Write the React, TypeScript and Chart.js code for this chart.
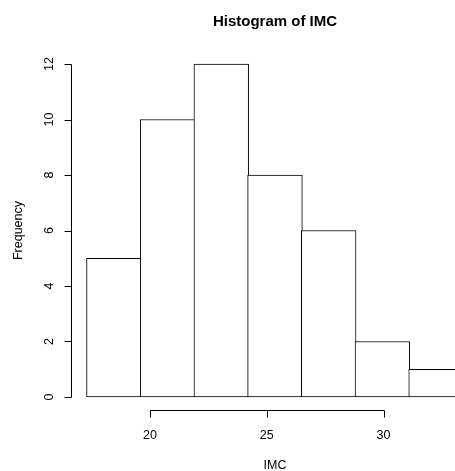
import React, { useEffect, useRef } from "react";
import { Chart, registerables } from "chart.js";

Chart.register(...registerables);

// Histogram bins (class breaks) and counts for IMC
const binEdges = [17.3, 19.6, 21.9, 24.2, 26.5, 28.8, 31.1, 33.4];
const counts = [5, 10, 12, 8, 6, 2, 1];
const xTickValues = [20, 25, 30];
const yTickValues = [0, 2, 4, 6, 8, 10, 12];
const titleText = "Histogram of IMC";
const xLabel = "IMC";
const yLabel = "Frequency";

const FONT = "'Liberation Sans', Arial, Helvetica, sans-serif";

const W = 455;
const H = 471;
const PAD_LEFT = 72;
const X_MAX = 33.06;

// Axis lines, ticks, tick labels and titles in the style of base graphics
const baseAxesPlugin = {
  id: "baseAxes",
  afterDraw(chart: any) {
    const { ctx, chartArea, scales } = chart;
    const xs = scales.x;
    const ys = scales.y;
    ctx.save();
    ctx.strokeStyle = "#000";
    ctx.fillStyle = "#000";
    ctx.lineWidth = 1;

    // y axis
    const ax = Math.round(chartArea.left) - 0.5;
    const yTop = Math.round(ys.getPixelForValue(yTickValues[yTickValues.length - 1])) + 0.5;
    const yBot = Math.round(ys.getPixelForValue(yTickValues[0])) + 0.5;
    ctx.beginPath();
    ctx.moveTo(ax, yTop);
    ctx.lineTo(ax, yBot);
    yTickValues.forEach((v) => {
      const py = Math.round(ys.getPixelForValue(v)) + 0.5;
      ctx.moveTo(ax, py);
      ctx.lineTo(ax - 7, py);
    });
    ctx.stroke();

    ctx.font = `12.5px ${FONT}`;
    ctx.textAlign = "center";
    ctx.textBaseline = "alphabetic";
    yTickValues.forEach((v) => {
      const py = ys.getPixelForValue(v);
      ctx.save();
      ctx.translate(ax - 19, py);
      ctx.rotate(-Math.PI / 2);
      ctx.fillText(String(v), 0, 0);
      ctx.restore();
    });

    // x axis
    const ay = Math.round(chartArea.bottom) + 0.5;
    const xL = Math.round(xs.getPixelForValue(xTickValues[0])) + 0.5;
    const xR = Math.round(xs.getPixelForValue(xTickValues[xTickValues.length - 1])) + 0.5;
    ctx.beginPath();
    ctx.moveTo(xL, ay);
    ctx.lineTo(xR, ay);
    xTickValues.forEach((v) => {
      const px = Math.round(xs.getPixelForValue(v)) + 0.5;
      ctx.moveTo(px, ay);
      ctx.lineTo(px, ay + 7);
    });
    ctx.stroke();

    xTickValues.forEach((v) => {
      ctx.fillText(String(v), xs.getPixelForValue(v), ay + 28);
    });

    // plot-region centre (the region extends past the canvas on the right)
    const regionRight = xs.getPixelForValue(binEdges[binEdges.length - 1] + 0.04 * (binEdges[binEdges.length - 1] - binEdges[0]));
    const cx = (chartArea.left + regionRight) / 2;
    const cy = (chartArea.top + chartArea.bottom) / 2;

    ctx.fillText(xLabel, cx, ay + 58.5);

    ctx.save();
    ctx.translate(ax - 49.5, cy);
    ctx.rotate(-Math.PI / 2);
    ctx.fillText(yLabel, 0, 0);
    ctx.restore();

    ctx.font = `bold 15px ${FONT}`;
    ctx.fillText(titleText, cx, 25.5);

    ctx.restore();
  },
};

export default function App() {
  const canvasRef = useRef<HTMLCanvasElement | null>(null);

  useEffect(() => {
    if (!canvasRef.current) return;
    const lo = binEdges[0];
    const hi = binEdges[binEdges.length - 1];
    const span = hi - lo;
    const xMin = lo - 0.04 * span;
    const yMax = Math.max(...counts);
    const yMin = -0.04 * yMax;
    const yMaxPad = yMax + 0.04 * yMax;

    // one bin in pixels, plus one so neighbouring outlines share a single column
    const binPx = ((binEdges[1] - binEdges[0]) / (X_MAX - xMin)) * (W - PAD_LEFT);
    const thickness = binPx + 1;

    const points = counts.map((c, i) => ({
      x: (binEdges[i] + binEdges[i + 1]) / 2,
      y: c,
    }));

    const chart = new Chart(canvasRef.current, {
      type: "bar",
      data: {
        datasets: [
          {
            data: points as any,
            backgroundColor: "#ffffff",
            borderColor: "#000000",
            borderWidth: 1,
            borderSkipped: false,
            barThickness: thickness,
            clip: 0 as any,
          },
        ],
      },
      options: {
        responsive: false,
        animation: false,
        devicePixelRatio: 1,
        layout: { padding: { left: PAD_LEFT, right: 0, top: 50.7, bottom: 60.7 } },
        plugins: {
          legend: { display: false },
          tooltip: { enabled: false },
          title: { display: false },
        },
        scales: {
          x: {
            type: "linear",
            display: false,
            offset: false,
            min: xMin,
            max: X_MAX,
            afterBuildTicks: (s: any) => {
              s.ticks = [];
            },
          },
          y: {
            type: "linear",
            display: false,
            min: yMin,
            max: yMaxPad,
          },
        },
      },
      plugins: [baseAxesPlugin],
    });
    return () => chart.destroy();
  }, []);

  return (
    <div
      style={{
        position: "fixed",
        left: 0,
        top: 0,
        width: W,
        height: H,
        background: "#ffffff",
        overflow: "hidden",
      }}
    >
      <canvas ref={canvasRef} width={W} height={H} style={{ display: "block" }} />
    </div>
  );
}
